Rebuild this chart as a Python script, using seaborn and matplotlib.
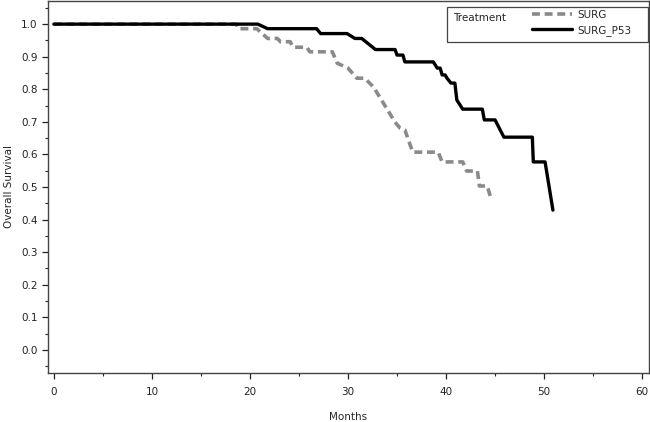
import pandas as pd
import matplotlib
matplotlib.use("Agg")
import matplotlib.pyplot as plt
import seaborn as sns
from matplotlib.ticker import MultipleLocator
from matplotlib.patches import Rectangle

# Survival curve points
surg_months = [0, 18.6, 18.8, 20.7, 21.8, 22.8, 23.1, 24.1, 24.4, 25.8, 26.1, 28.4,
               28.9, 30.0, 30.9, 31.7, 32.6, 34.8, 35.3, 35.8, 36.6, 39.2, 39.6,
               41.7, 42.1, 43.2, 43.4, 44.2, 44.6]
surg_surv = [1.0, 1.0, 0.986, 0.986, 0.956, 0.956, 0.946, 0.946, 0.929, 0.929, 0.915, 0.915,
             0.880, 0.865, 0.834, 0.834, 0.807, 0.699, 0.681, 0.675, 0.607, 0.607, 0.577,
             0.577, 0.549, 0.549, 0.503, 0.503, 0.463]

p53_months = [0, 20.8, 21.8, 26.8, 27.2, 29.9, 30.7, 31.4, 32.8, 34.8, 35.0, 35.6, 35.8,
              38.7, 39.1, 39.4, 39.6, 39.9, 40.1, 40.5, 40.9, 41.1, 41.7, 43.7, 43.9,
              45.0, 45.9, 48.8, 48.9, 50.1, 50.9]
p53_surv = [1.0, 1.0, 0.986, 0.986, 0.971, 0.971, 0.956, 0.956, 0.922, 0.922, 0.905, 0.905, 0.884,
            0.884, 0.865, 0.865, 0.844, 0.844, 0.834, 0.819, 0.819, 0.767, 0.739, 0.739, 0.706,
            0.706, 0.653, 0.653, 0.577, 0.577, 0.429]

groups = ["SURG", "SURG_P53"]

df = pd.DataFrame({
    "Months": surg_months + p53_months,
    "Survival": surg_surv + p53_surv,
    "Treatment": [groups[0]] * len(surg_months) + [groups[1]] * len(p53_months),
})

sns.set_style("ticks")
plt.rcParams["font.family"] = ["DejaVu Sans"]

fig = plt.figure(figsize=(6.5, 4.22), dpi=100)
ax = fig.add_axes([48 / 650, 49 / 422, 601 / 650, 372 / 422])

sns.lineplot(data=df[df.Treatment == "SURG"], x="Months", y="Survival", sort=False,
             color="#8a8a8a", lw=2.6, ax=ax, label="SURG")
ax.lines[-1].set_dashes([2.2, 1.3])
sns.lineplot(data=df[df.Treatment == "SURG_P53"], x="Months", y="Survival", sort=False,
             color="black", lw=2.4, ax=ax, label="SURG_P53")

ax.set_xlim(-0.6, 60.7)
ax.set_ylim(-0.071, 1.071)
ax.xaxis.set_major_locator(MultipleLocator(10))
ax.xaxis.set_minor_locator(MultipleLocator(5))
ax.yaxis.set_minor_locator(MultipleLocator(0.05))
ax.set_yticks([i / 10 for i in range(11)])
ax.set_yticklabels([f"{i / 10:.1f}" for i in range(11)])
ax.tick_params(which="major", length=4, width=0.9, labelsize=7.5, colors="#222222")
ax.tick_params(axis="x", which="major", pad=6)
ax.tick_params(which="minor", length=2.5, width=0.8, colors="#222222")
for s in ax.spines.values():
    s.set_linewidth(1.0)
    s.set_color("#444444")

ax.set_xlabel("Months", fontsize=7.5, labelpad=11)
ax.set_ylabel("Overall Survival", fontsize=7.5, labelpad=5)

# legend: box with title on the left, entries on the right
ax.add_patch(Rectangle((0.664, 0.890), 0.334, 0.094, transform=ax.transAxes,
                       fill=False, lw=0.9, ec="#444444"))
ax.text(0.674, 0.955, "Treatment", transform=ax.transAxes, fontsize=7.5,
        va="center", ha="left")
leg = ax.legend(loc="upper left", bbox_to_anchor=(0.805, 0.976), frameon=False,
                fontsize=7.5, handlelength=3.9, handletextpad=0.5, labelspacing=0.5,
                borderpad=0, borderaxespad=0)

fig.savefig("out.png", dpi=100)
